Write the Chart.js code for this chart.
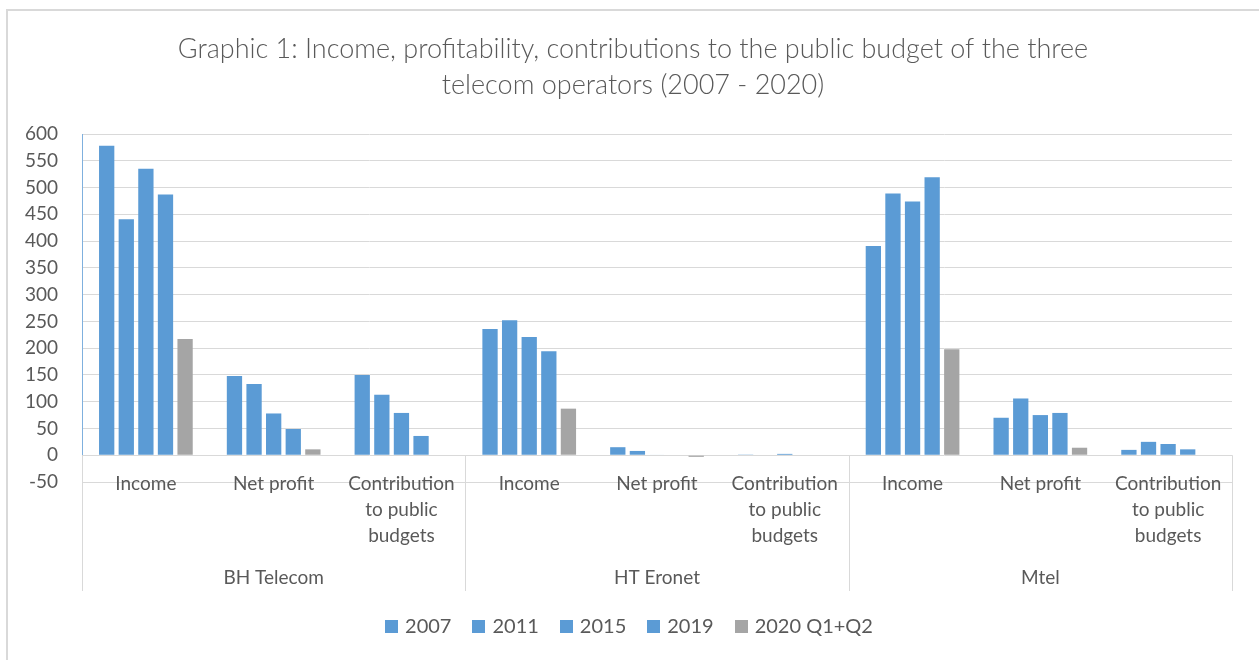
<!DOCTYPE html>
<html>
<head>
<meta charset="utf-8">
<script src="https://cdn.jsdelivr.net/npm/chart.js@4.4.1/dist/chart.umd.min.js"></script>
<style>
  html, body { margin: 0; padding: 0; background: #fff; }
  canvas { display: block; }
</style>
</head>
<body>
<canvas id="chart" width="1259" height="660"></canvas>
<script>
// data
var companies = ['BH Telecom', 'HT Eronet', 'Mtel'];
var measures = [['Income'], ['Net profit'], ['Contribution', 'to public', 'budgets']];
var years = ['2007', '2011', '2015', '2019', '2020 Q1+Q2'];
var yTicks = [-50, 600, 50]; // min, max, step

var v2007 = [578, 148, 150, 236, 15, 0.5, 391, 70, 10];
var v2011 = [441, 133, 113, 252, 8, 0, 489, 106, 25];
var v2015 = [535, 78, 79, 221, 1, 2.5, 474, 75, 21];
var v2019 = [487, 49, 36, 194, 0, 0, 519, 79, 11];
var v2020 = [217, 11, 0, 87, -3, 0, 198, 14, 0];

var blue = '#5B9BD5';
var grey = '#A5A5A5';
var textColor = '#595959';
var lineColor = '#D9D9D9';

// flat category list, one per (company, measure)
var labels = [];
companies.forEach(function (c) {
    measures.forEach(function (m) {
        labels.push(c + ' - ' + m.join(' '));
    });
});

function ds(label, data, color) {
    return {
        label: label,
        data: data,
        backgroundColor: color,
        borderWidth: 0,
        categoryPercentage: 0.767,
        barPercentage: 0.78
    };
}

var excelLook = {
    id: 'excelLook',
    beforeDraw: function (chart) {
        var ctx = chart.ctx;
        ctx.save();
        // outer frame
        ctx.strokeStyle = lineColor;
        ctx.lineWidth = 2;
        ctx.strokeRect(7, 10, 1262, 680);
        // title
        ctx.fillStyle = textColor;
        ctx.font = '300 27px Lato';
        ctx.textAlign = 'center';
        ctx.textBaseline = 'middle';
        ctx.fillText('Graphic 1: Income, profitability, contributions to the public budget of the three', 633, 49);
        ctx.fillText('telecom operators (2007 - 2020)', 633, 85);
        ctx.restore();
    },
    afterDraw: function (chart) {
        var ctx = chart.ctx;
        var x = chart.scales.x;
        var y = chart.scales.y;
        var area = chart.chartArea;
        var zero = y.getPixelForValue(0);
        ctx.save();

        // value axis line (0 .. top)
        ctx.strokeStyle = '#7FB0DE';
        ctx.lineWidth = 1;
        ctx.beginPath();
        ctx.moveTo(area.left + 0.5, y.getPixelForValue(600));
        ctx.lineTo(area.left + 0.5, zero);
        ctx.stroke();

        // group separators below the category axis
        ctx.strokeStyle = lineColor;
        var catW = (area.right - area.left) / labels.length;
        for (var g = 0; g <= companies.length; g++) {
            var gx = Math.round(area.left + g * measures.length * catW) + 0.5;
            ctx.beginPath();
            ctx.moveTo(gx, zero);
            ctx.lineTo(gx, 591);
            ctx.stroke();
        }

        // category labels
        ctx.fillStyle = textColor;
        ctx.font = '19px Lato';
        ctx.textAlign = 'center';
        ctx.textBaseline = 'middle';
        for (var i = 0; i < labels.length; i++) {
            var lines = measures[i % measures.length];
            var cx = x.getPixelForValue(i);
            lines.forEach(function (t, k) {
                ctx.fillText(t, cx, 484 + k * 26);
            });
        }
        // company labels
        for (var c = 0; c < companies.length; c++) {
            var mid = (x.getPixelForValue(c * 3) + x.getPixelForValue(c * 3 + 2)) / 2;
            ctx.fillText(companies[c], mid, 578);
        }

        // legend
        ctx.font = '20px Lato';
        ctx.textAlign = 'left';
        var box = 13, gapBox = 7, gapItem = 21;
        var total = 0;
        chart.data.datasets.forEach(function (d, k) {
            total += box + gapBox + ctx.measureText(d.label).width;
            if (k < chart.data.datasets.length - 1) total += gapItem;
        });
        var lx = 629 - total / 2;
        var ly = 626;
        chart.data.datasets.forEach(function (d) {
            ctx.fillStyle = d.backgroundColor;
            ctx.fillRect(Math.round(lx), ly - 6, box, box);
            ctx.fillStyle = textColor;
            ctx.fillText(d.label, lx + box + gapBox, ly + 1);
            lx += box + gapBox + ctx.measureText(d.label).width + gapItem;
        });
        ctx.restore();
    }
};

var chart = new Chart(document.getElementById('chart'), {
    type: 'bar',
    data: {
        labels: labels,
        datasets: [
            ds(years[0], v2007, blue),
            ds(years[1], v2011, blue),
            ds(years[2], v2015, blue),
            ds(years[3], v2019, blue),
            ds(years[4], v2020, grey)
        ]
    },
    options: {
        responsive: false,
        animation: false,
        layout: { padding: { top: 134, right: 27, bottom: 178, left: 0 } },
        scales: {
            x: { display: false },
            y: {
                min: yTicks[0],
                max: yTicks[1],
                ticks: { stepSize: yTicks[2], color: textColor, font: { family: 'Lato', size: 19 }, padding: 24 },
                grid: { color: lineColor, lineWidth: 1, drawTicks: false },
                border: { display: false },
                afterFit: function (s) { s.width = 82; }
            }
        },
        plugins: {
            legend: { display: false },
            title: { display: false },
            tooltip: { enabled: false }
        }
    },
    plugins: [excelLook]
});
</script>
</body>
</html>
